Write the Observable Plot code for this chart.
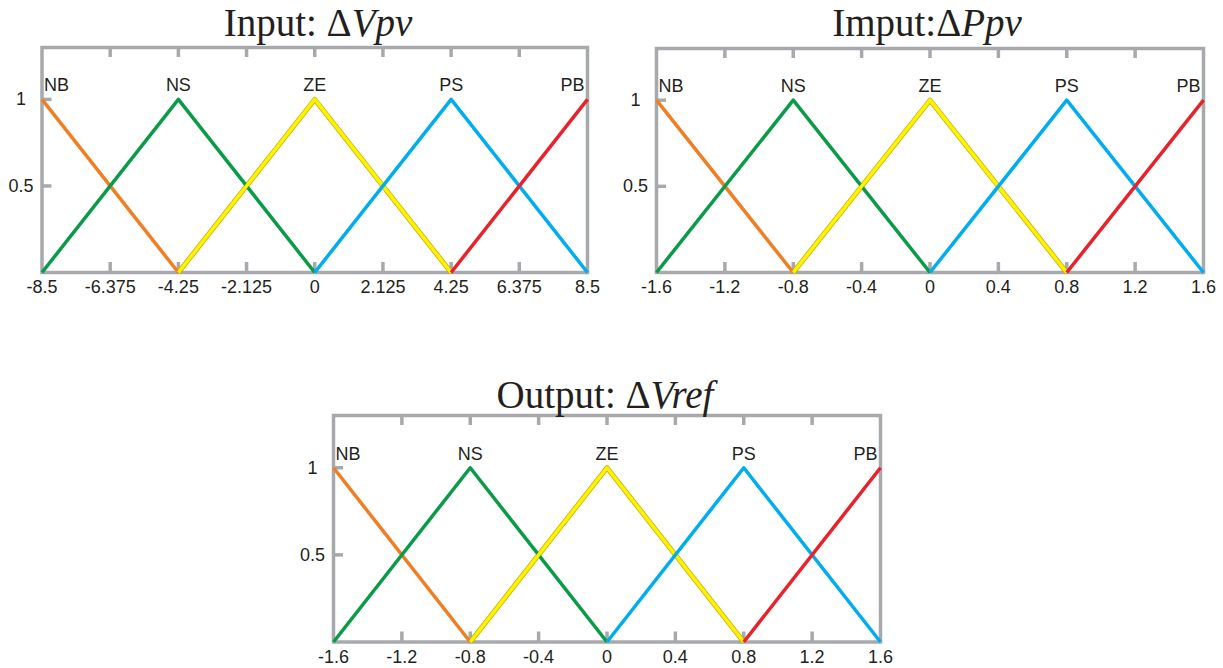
<!DOCTYPE html>
<html><head><meta charset="utf-8">
<script src="https://cdn.jsdelivr.net/npm/d3@7"></script>
<script src="https://cdn.jsdelivr.net/npm/@observablehq/plot@0.6"></script>
<style>
body{margin:0;background:#fff;}
#wrap{position:relative;width:1223px;height:668px;overflow:hidden;background:#fff;}
#wrap svg{position:absolute;max-width:none;}
#log{position:absolute;left:0;top:320px;width:280px;font:9px monospace;white-space:pre-wrap;word-break:break-all;}
</style></head><body><div id="wrap"><div id="log"></div></div>
<script>
// ---- data ----
const mfNames = ["NB", "NS", "ZE", "PS", "PB"];
const mfColors = ["#f07e22", "#0a9b48", "#fff200", "#00aeef", "#e9212a"];
// membership grade of each set at each of the five breakpoints (null = not a vertex)
const gradeNB = [1, 0, null, null, null];
const gradeNS = [0, 1, 0, null, null];
const gradeZE = [null, 0, 1, 0, null];
const gradePS = [null, null, 0, 1, 0];
const gradePB = [null, null, null, 0, 1];

const yTicks = [0.5, 1];
const yTickLabels = ["0.5", "1"];

const vpvBreaks = [-8.5, -4.25, 0, 4.25, 8.5];
const vpvTicks = [-8.5, -6.375, -4.25, -2.125, 0, 2.125, 4.25, 6.375, 8.5];
const vpvTickLabels = ["-8.5", "-6.375", "-4.25", "-2.125", "0", "2.125", "4.25", "6.375", "8.5"];

const ppvBreaks = [-1.6, -0.8, 0, 0.8, 1.6];
const ppvTicks = [-1.6, -1.2, -0.8, -0.4, 0, 0.4, 0.8, 1.2, 1.6];
const ppvTickLabels = ["-1.6", "-1.2", "-0.8", "-0.4", "0", "0.4", "0.8", "1.2", "1.6"];

const vrefBreaks = [-1.6, -0.8, 0, 0.8, 1.6];
const vrefTicks = [-1.6, -1.2, -0.8, -0.4, 0, 0.4, 0.8, 1.2, 1.6];
const vrefTickLabels = ["-1.6", "-1.2", "-0.8", "-0.4", "0", "0.4", "0.8", "1.2", "1.6"];

// ---- drawing ----
const gray = "#a7a9ac";
const ink = "#231f20";
const fs = 18;
const tickLen = 10;
const grades = [gradeNB, gradeNS, gradeZE, gradePS, gradePB];
const logs = [];

function makePanel(cfg) {
  const rows = [];
  mfNames.forEach((name, si) => {
    grades[si].forEach((g, bi) => {
      if (g != null) rows.push({set: name, x: cfg.breaks[bi], y: g});
    });
  });
  const peaks = mfNames.map((name, i) => ({set: name, x: cfg.breaks[i], y: 1}));
  const xLab = new Map(cfg.ticks.map((t, i) => [t, cfg.tickLabels[i]]));
  const yLab = new Map(yTicks.map((t, i) => [t, yTickLabels[i]]));
  const innerH = cfg.height - cfg.mT - cfg.mB;
  const innerW = cfg.width - cfg.mL - cfg.mR;
  const innerTicks = cfg.ticks.slice(1, -1);

  const plot = Plot.plot({
    width: cfg.width, height: cfg.height,
    marginLeft: cfg.mL, marginRight: cfg.mR, marginTop: cfg.mT, marginBottom: cfg.mB,
    x: {domain: [cfg.breaks[0], cfg.breaks[4]]},
    y: {domain: [0, 1.3]},
    color: {domain: mfNames, range: mfColors},
    style: {fontFamily: "'Liberation Sans', Arial, sans-serif", fontSize: fs + "px", color: ink, background: "none", overflow: "visible"},
    marks: [
      Plot.frame({stroke: gray, strokeWidth: 3.5}),
      // inward ticks: top and bottom edges
      Plot.tickX(innerTicks, {x: d => d, stroke: gray, strokeWidth: 3.5, insetBottom: innerH - tickLen}),
      Plot.tickX(innerTicks, {x: d => d, stroke: gray, strokeWidth: 3.5, insetTop: innerH - tickLen}),
      // inward ticks: left edge
      Plot.tickY(yTicks, {y: d => d, stroke: gray, strokeWidth: 3.5, insetRight: innerW - tickLen}),
      Plot.axisX({anchor: "bottom", ticks: cfg.ticks, tickSize: 0, tickPadding: 8, fontSize: fs, tickFormat: d => xLab.get(d), fill: ink, label: null}),
      Plot.axisY({anchor: "left", ticks: yTicks, tickSize: 0, tickPadding: 21, fontSize: fs, textAnchor: "middle", tickFormat: d => yLab.get(d), fill: ink, label: null}),
      Plot.line(rows.filter(d => d.set === "ZE"), {x: "x", y: "y", stroke: "#c4b300", strokeWidth: 5, strokeLinecap: "butt"}),
      Plot.line(rows, {x: "x", y: "y", z: "set", stroke: "set", strokeWidth: 3.5, strokeLinecap: "butt"}),
      Plot.text(peaks.filter(d => d.set === "NB"), {x: "x", y: "y", text: "set", fontSize: fs, textAnchor: "start", dx: 2, dy: -14, fill: ink}),
      Plot.text(peaks.filter(d => d.set !== "NB" && d.set !== "PB"), {x: "x", y: "y", text: "set", fontSize: fs, dy: -14, fill: ink}),
      Plot.text(peaks.filter(d => d.set === "PB"), {x: "x", y: "y", text: "set", fontSize: fs, textAnchor: "end", dx: -3, dy: -14, fill: ink})
    ]
  });
  plot.style.left = cfg.left + "px";
  plot.style.top = cfg.top + "px";
  const t = d3.select(plot).append("text")
    .attr("x", cfg.titleX).attr("y", cfg.titleY)
    .attr("text-anchor", "middle")
    .attr("fill", ink)
    .style("font-family", "'Liberation Serif', 'Times New Roman', serif")
    .style("font-size", "39px");
  t.append("tspan").text(cfg.titleA);
  t.append("tspan").style("font-style", "italic").text(cfg.titleB);
  document.getElementById("wrap").appendChild(plot);
  logs.push(plot.querySelectorAll("g[aria-label]").length);
}

makePanel({breaks: vpvBreaks, ticks: vpvTicks, tickLabels: vpvTickLabels,
  left: 0, top: 0, width: 610, height: 300, mL: 41.5, mR: 23, mT: 47, mB: 28,
  titleX: 318, titleY: 36, titleA: "Input: Δ", titleB: "Vpv"});
makePanel({breaks: ppvBreaks, ticks: ppvTicks, tickLabels: ppvTickLabels,
  left: 615, top: 0, width: 608, height: 300, mL: 41, mR: 20, mT: 48, mB: 28,
  titleX: 312, titleY: 36, titleA: "Imput:Δ", titleB: "Ppv"});
makePanel({breaks: vrefBreaks, ticks: vrefTicks, tickLabels: vrefTickLabels,
  left: 292, top: 370, width: 610, height: 298, mL: 41, mR: 22, mT: 45, mB: 26.5,
  titleX: 313, titleY: 38, titleA: "Output: Δ", titleB: "Vref"});
document.getElementById("log").textContent = "";
</script>
</body></html>
